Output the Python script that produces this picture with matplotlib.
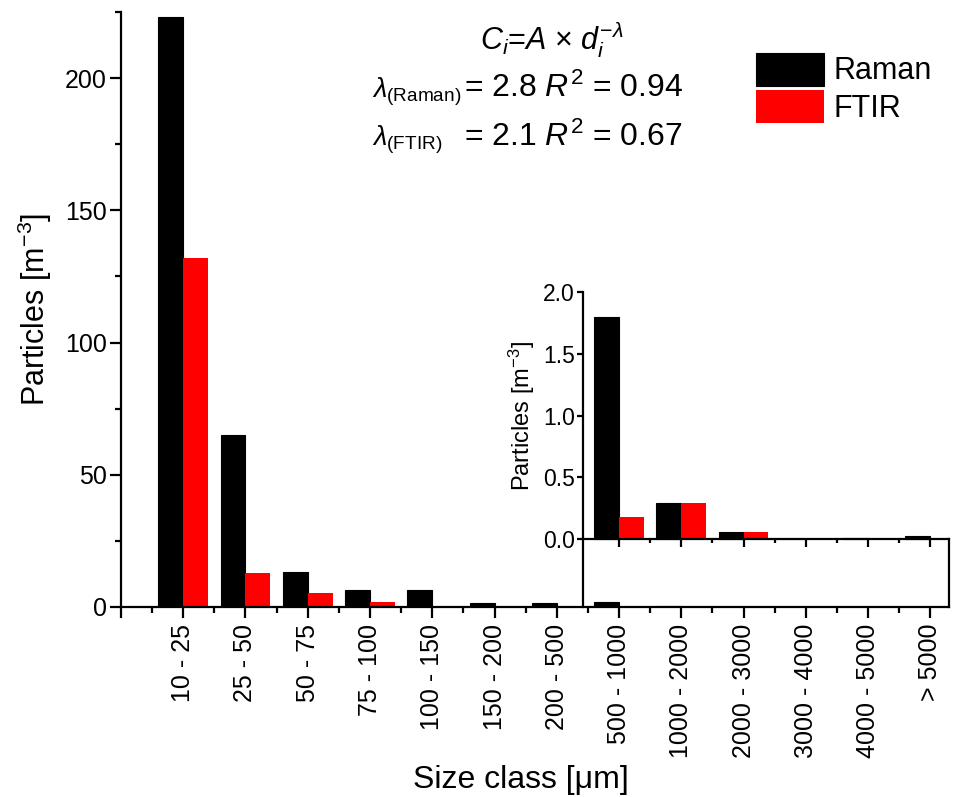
import numpy as np
import matplotlib
matplotlib.use("Agg")
import matplotlib.pyplot as plt
from matplotlib.ticker import MultipleLocator, FixedLocator

plt.rcParams["font.family"] = ["Liberation Sans", "DejaVu Sans"]
plt.rcParams["mathtext.fontset"] = "custom"
plt.rcParams["mathtext.rm"] = "Liberation Sans"
plt.rcParams["mathtext.it"] = "Liberation Sans:italic"
plt.rcParams["mathtext.bf"] = "Liberation Sans:bold"

SIZE_CLASSES = [
    "10 - 25", "25 - 50", "50 - 75", "75 - 100", "100 - 150",
    "150 - 200", "200 - 500", "500 - 1000", "1000 - 2000",
    "2000 - 3000", "3000 - 4000", "4000 - 5000", "> 5000",
]
RAMAN = [223, 65, 13.2, 6.4, 6.3, 1.6, 1.6, 1.8, 0.29, 0.06, 0.0, 0.01, 0.03]
FTIR = [132, 12.8, 5.2, 1.9, 0.2, 0.05, 0.05, 0.18, 0.29, 0.06, 0.0, 0.005, 0.005]

BAR_W = 0.4
LW = 1.6
INSET_FROM = 7  # first size class shown in the zoomed panel

x = np.arange(len(SIZE_CLASSES))

fig = plt.figure(figsize=(9.54, 7.97), dpi=100)
ax = fig.add_axes([0.1268, 0.2384, 0.868, 0.7466])

ax.bar(x - BAR_W / 2, RAMAN, BAR_W, color="black", edgecolor="black",
       linewidth=0.8, label="Raman")
ax.bar(x + BAR_W / 2, FTIR, BAR_W, color="#ff0000", edgecolor="none",
       label="FTIR")

ax.set_xlim(-1, 12.3)
ax.set_ylim(0, 225)
ax.spines["top"].set_visible(False)
ax.spines["right"].set_visible(False)
for s in ("left", "bottom"):
    ax.spines[s].set_linewidth(LW)

ax.set_xticks(np.arange(-1, len(SIZE_CLASSES)))
ax.set_xticklabels([""] + SIZE_CLASSES, rotation=90, fontsize=18)
ax.xaxis.set_minor_locator(FixedLocator(np.arange(-0.5, 12.5, 1.0)))
ax.yaxis.set_major_locator(MultipleLocator(50))
ax.yaxis.set_minor_locator(MultipleLocator(25))
ax.tick_params(axis="both", which="major", direction="out", length=8,
               width=LW, labelsize=18, pad=2)
ax.tick_params(axis="x", which="major", pad=4)
ax.tick_params(axis="both", which="minor", direction="out", length=4,
               width=LW)

ax.set_ylabel("Particles [m$^{-3}$]", fontsize=22, labelpad=8)
ax.set_xlabel("Size class [\u03bcm]", fontsize=23, labelpad=6)
ax.xaxis.set_label_coords(0.483, -0.265)

# fit results
ax.text(0.578, 0.975, r"$C_i$=$A$ $\times$ $d_i^{-\lambda}$",
        transform=fig.transFigure, fontsize=22, ha="center", va="top")
ax.text(0.39, 0.878, r"$\lambda_{\rm (Raman)}$", transform=fig.transFigure,
        fontsize=19.5, ha="left", va="baseline")
ax.text(0.486, 0.878, r"= 2.8 $R^2$ = 0.94", transform=fig.transFigure,
        fontsize=23, ha="left", va="baseline")
ax.text(0.39, 0.817, r"$\lambda_{\rm (FTIR)}$", transform=fig.transFigure,
        fontsize=19.5, ha="left", va="baseline")
ax.text(0.486, 0.817, r"= 2.1 $R^2$ = 0.67", transform=fig.transFigure,
        fontsize=23, ha="left", va="baseline")

ax.legend(loc="upper left", bbox_to_anchor=(0.792, 0.934),
          bbox_transform=fig.transFigure, frameon=False, fontsize=22,
          handlelength=2.25, handleheight=1.3, labelspacing=0.12,
          handletextpad=0.3, borderpad=0, borderaxespad=0)

# zoomed panel for the large size classes
ins = fig.add_axes([583 / 954, 1 - 607 / 797, (949 - 583) / 954,
                    (607 - 292) / 797])
ins.patch.set_alpha(0)
xi = x[INSET_FROM:]
ins.bar(xi - BAR_W / 2, RAMAN[INSET_FROM:], BAR_W, color="black",
        edgecolor="black", linewidth=0.8)
ins.bar(xi + BAR_W / 2, FTIR[INSET_FROM:], BAR_W, color="#ff0000",
        edgecolor="none")
ins.set_xlim(6.42, 12.3)
ins.set_ylim(-0.548, 2.0)
ins.spines["top"].set_visible(False)
ins.spines["bottom"].set_position(("data", 0))
ins.spines["right"].set_bounds(-0.548, 0)
for s in ("left", "bottom", "right"):
    ins.spines[s].set_linewidth(LW)
ins.set_xticks(xi)
ins.set_xticklabels([])
ins.xaxis.set_minor_locator(FixedLocator(np.arange(7.5, 12.5, 1.0)))
ins.set_yticks([0, 0.5, 1.0, 1.5, 2.0])
ins.tick_params(axis="x", which="major", direction="out", length=6, width=LW)
ins.tick_params(axis="x", which="minor", direction="out", length=3, width=LW)
ins.tick_params(axis="y", which="major", direction="out", length=4, width=LW,
                labelsize=16.5, pad=2)
ins.tick_params(axis="y", which="minor", left=False)
ins.tick_params(axis="y", right=False)
ins.set_ylabel("Particles [m$^{-3}$]", fontsize=17)
ins.yaxis.set_label_coords(-0.125, 0.606)

fig.savefig("out.png", dpi=100)
